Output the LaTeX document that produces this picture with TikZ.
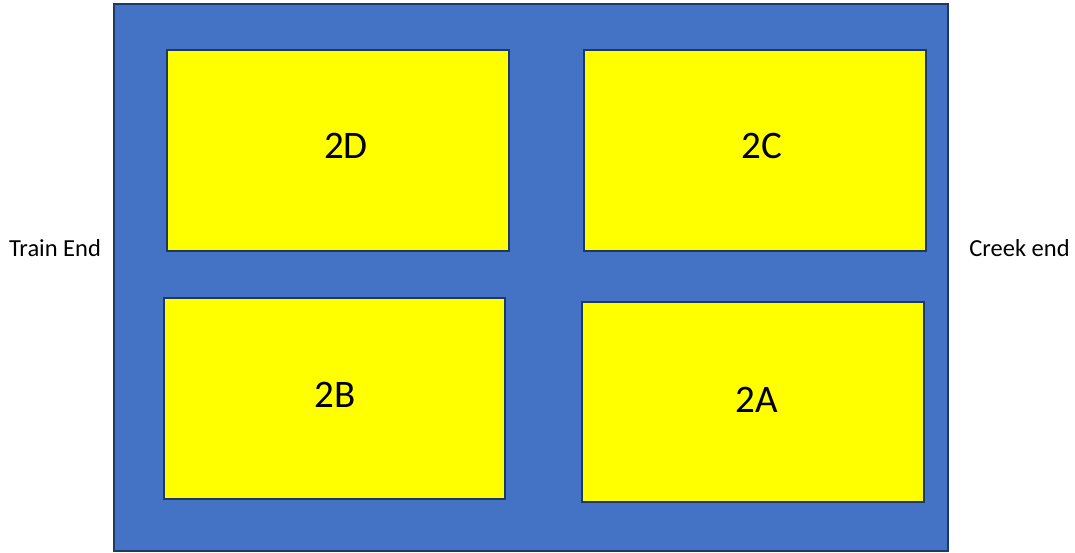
\documentclass[tikz,border=0pt]{standalone}
\usepackage{fontspec}
\setmainfont{Carlito}
\definecolor{bluefill}{HTML}{4472C4}
\definecolor{darkedge}{HTML}{1F3864}
\definecolor{yel}{HTML}{FFFF00}
\begin{document}
\begin{tikzpicture}[x=1pt,y=-1pt,
  region/.style={draw=darkedge,line width=2pt,fill=bluefill},
  plot/.style={draw=darkedge,line width=2pt,fill=yel},
  plotlabel/.style={font=\fontsize{39}{44}\selectfont,inner sep=0pt},
  sidelabel/.style={font=\fontsize{24.5}{28}\selectfont,inner sep=0pt}]
\useasboundingbox (0,0) rectangle (1075,552);
\draw[region] (114,4) rectangle (948,551);
\node[plot,minimum width=342pt,minimum height=201pt,inner sep=0pt] (boxD) at (338,150.5) {};
\node[plot,minimum width=342pt,minimum height=201pt,inner sep=0pt] (boxC) at (755,150.5) {};
\node[plot,minimum width=341pt,minimum height=201pt,inner sep=0pt] (boxB) at (334.5,398.5) {};
\node[plot,minimum width=342pt,minimum height=200pt,inner sep=0pt] (boxA) at (753,402) {};
\node[plotlabel] (tD) at (346,146) {2D};
\node[plotlabel] (tC) at (762,146) {2C};
\node[plotlabel] (tB) at (335,395) {2B};
\node[plotlabel] (tA) at (757,400) {2A};
\node[sidelabel] (train) at (55,248) {Train End};
\node[sidelabel] (creek) at (1019.5,248) {Creek end};
\end{tikzpicture}
\end{document}
